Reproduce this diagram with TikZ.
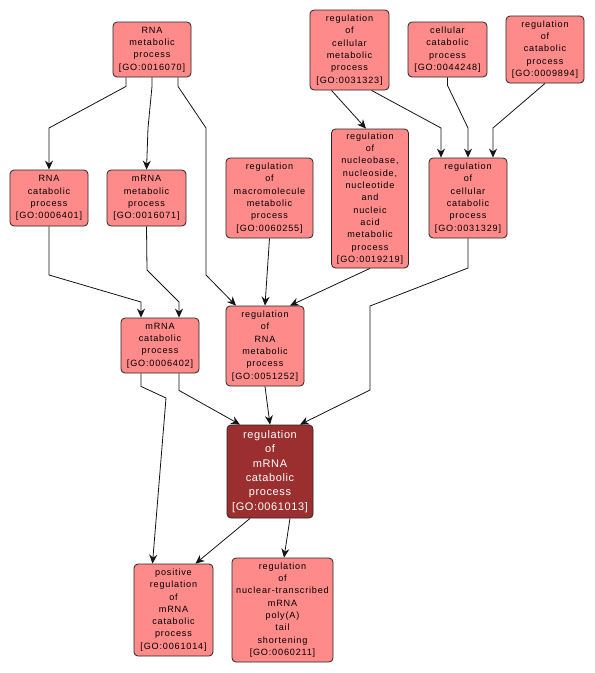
\documentclass[tikz,border=0pt]{standalone}
\usepackage{fontspec}
\setmainfont{Liberation Sans}[LetterSpace=9]
\usetikzlibrary{arrows.meta}
\definecolor{nodefill}{RGB}{255,138,138}
\definecolor{darkfill}{RGB}{155,46,46}
\definecolor{edgecol}{RGB}{20,20,20}
\tikzset{
 gobox/.style={draw=black!85, line width=0.8pt, fill=nodefill, rounded corners=4pt, inner sep=0pt, align=center, font=\fontsize{9.1}{12.3}\selectfont},
 focusbox/.style={gobox, fill=darkfill, text=white, font=\fontsize{11}{14.4}\selectfont\addfontfeature{LetterSpace=5.5}},
 edge/.style={draw=edgecol, line width=0.8pt, -{Stealth[length=9pt,width=8pt,inset=3pt]}}
}
\begin{document}
\begin{tikzpicture}[x=1pt,y=-1pt]
\useasboundingbox (0,0) rectangle (595,673);
\fill[white] (0,0) rectangle (595,673);

\node[gobox, minimum width=78pt, minimum height=55pt] (n1) at (152,49.5) {RNA\\metabolic\\process\\{[GO:0016070]}};
\node[gobox, minimum width=79pt, minimum height=80pt] (n2) at (349.5,50) {regulation\\of\\cellular\\metabolic\\process\\{[GO:0031323]}};
\node[gobox, minimum width=79pt, minimum height=55pt] (n3) at (447.5,49.5) {cellular\\catabolic\\process\\{[GO:0044248]}};
\node[gobox, minimum width=78pt, minimum height=67pt] (n4) at (545,49.5) {regulation\\of\\catabolic\\process\\{[GO:0009894]}};
\node[gobox, minimum width=78pt, minimum height=56pt] (n5) at (49,198) {RNA\\catabolic\\process\\{[GO:0006401]}};
\node[gobox, minimum width=79pt, minimum height=56pt] (n6) at (146.5,198) {mRNA\\metabolic\\process\\{[GO:0016071]}};
\node[gobox, minimum width=87pt, minimum height=80pt] (n7) at (269.5,198) {regulation\\of\\macromolecule\\metabolic\\process\\{[GO:0060255]}};
\node[gobox, minimum width=77pt, minimum height=139pt] (n8) at (370,198.5) {regulation\\of\\nucleobase,\\nucleoside,\\nucleotide\\and\\nucleic\\acid\\metabolic\\process\\{[GO:0019219]}};
\node[gobox, minimum width=78pt, minimum height=80pt] (n9) at (468,198) {regulation\\of\\cellular\\catabolic\\process\\{[GO:0031329]}};
\node[gobox, minimum width=78pt, minimum height=55pt] (n10) at (160,345.5) {mRNA\\catabolic\\process\\{[GO:0006402]}};
\node[gobox, minimum width=78pt, minimum height=80pt] (n11) at (265,346) {regulation\\of\\RNA\\metabolic\\process\\{[GO:0051252]}};
\node[focusbox, minimum width=86pt, minimum height=93pt] (n12) at (270,471.5) {regulation\\of\\mRNA\\catabolic\\process\\{[GO:0061013]}};
\node[gobox, minimum width=79pt, minimum height=92pt] (n13) at (173.5,610) {positive\\regulation\\of\\mRNA\\catabolic\\process\\{[GO:0061014]}};
\node[gobox, minimum width=101pt, minimum height=104pt] (n14) at (282.5,610) {regulation\\of\\nuclear-transcribed\\mRNA\\poly(A)\\tail\\shortening\\{[GO:0060211]}};

\draw[edge] ([xshift=-26pt]n1.south) -- ++(0,9) -- (49,128) -- (n5.north);
\draw[edge] (n1.south) -- ++(0,9) -- (148,128) -- (n6.north);
\draw[edge] ([xshift=26pt]n1.south) -- ++(0,9) -- (206,128) -- (206,275) -- ([xshift=-29pt]n11.north);
\draw[edge] ([xshift=-18pt]n2.south) -- ([xshift=-4pt]n8.north);
\draw[edge] ([xshift=22pt]n2.south) -- (441,128) -- ([xshift=-27pt]n9.north);
\draw[edge] (n3.south) -- ++(0,8) -- (468,128) -- (n9.north);
\draw[edge] (n4.south) -- (493,128) -- ([xshift=25pt]n9.north);
\draw[edge] (n5.south) -- (49,275) -- (141,302) -- ([xshift=-19pt]n10.north);
\draw[edge] (n6.south) -- (147,270) -- (179,302) -- ([xshift=19pt]n10.north);
\draw[edge] (n7.south) -- (n11.north);
\draw[edge] (n8.south) -- ([xshift=25pt]n11.north);
\draw[edge] (n9.south) -- (468,268) -- (370,306) -- (370,390) -- ([xshift=30pt]n12.north);
\draw[edge] ([xshift=19pt]n10.south) -- ++(0,17) -- ([xshift=-30pt]n12.north);
\draw[edge] (n11.south) -- (n12.north);
\draw[edge] ([xshift=-19pt]n10.south) -- ++(0,13) -- (166,398) -- ([xshift=-21pt]n13.north);
\draw[edge] ([xshift=-20pt]n12.south) -- ([xshift=22pt]n13.north);
\draw[edge] ([xshift=20pt]n12.south) -- ([xshift=1.5pt]n14.north);
\end{tikzpicture}
\end{document}
